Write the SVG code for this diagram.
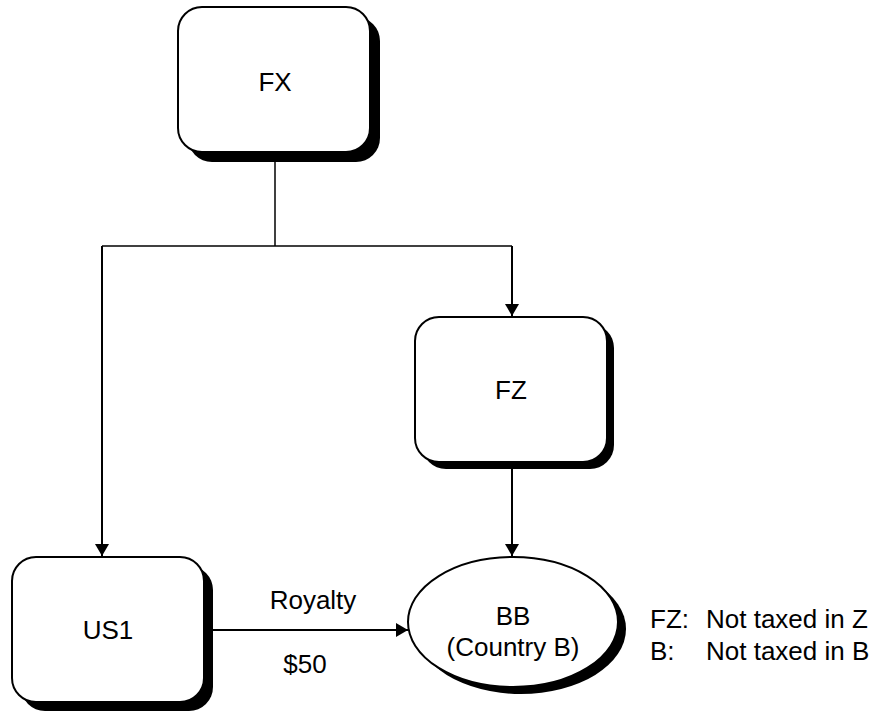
<svg xmlns="http://www.w3.org/2000/svg" width="873" height="711" viewBox="0 0 873 711">
  <style>
    .box { fill: #fff; stroke: #000; stroke-width: 2; }
    .shadow { fill: #000; }
    .lbl { font-family: "Liberation Sans", Arial, sans-serif; font-size: 26px; fill: #000; }
    .mid { text-anchor: middle; }
    .wire { fill: none; stroke: #000; stroke-width: 1.5; }
    .arrow { fill: none; stroke: #000; stroke-width: 2; marker-end: url(#head); }
  </style>
  <defs>
    <marker id="head" viewBox="0 0 12 14" refX="12" refY="7" markerWidth="12" markerHeight="14" markerUnits="userSpaceOnUse" orient="auto">
      <path d="M0,0 L12,7 L0,14 z" fill="#000"/>
    </marker>
  </defs>
  <rect width="873" height="711" fill="#fff"/>

  <g id="connectors">
    <path class="wire" d="M275,152 V246"/>
    <path class="wire" d="M102,246 H512"/>
    <path class="arrow" d="M102,246 V556"/>
    <path class="arrow" d="M512,246 V316"/>
    <path class="arrow" d="M512,462 V556"/>
    <path class="arrow" d="M203,630 H408"/>
  </g>

  <g id="fx">
    <rect class="shadow" x="188" y="17" width="192" height="145" rx="24"/>
    <rect class="box" x="178" y="7" width="192" height="145" rx="24"/>
    <text class="lbl mid" x="275" y="91">FX</text>
  </g>

  <g id="fz">
    <rect class="shadow" x="422" y="324" width="192" height="145" rx="24"/>
    <rect class="box" x="415" y="317" width="192" height="145" rx="24"/>
    <text class="lbl mid" x="511" y="399">FZ</text>
  </g>

  <g id="us1">
    <rect class="shadow" x="21" y="566" width="192" height="145" rx="24"/>
    <rect class="box" x="12" y="557" width="192" height="145" rx="24"/>
    <text class="lbl mid" x="108" y="639">US1</text>
  </g>

  <g id="bb">
    <ellipse class="shadow" cx="521" cy="629" rx="105" ry="65"/>
    <ellipse class="box" cx="513" cy="622" rx="105" ry="65"/>
    <text class="lbl mid" x="513" y="625">BB</text>
    <text class="lbl mid" x="513" y="656">(Country B)</text>
  </g>

  <g id="royalty-labels">
    <text class="lbl mid" x="313" y="609">Royalty</text>
    <text class="lbl mid" x="305" y="673">$50</text>
  </g>

  <g id="legend">
    <text class="lbl" x="650" y="628">FZ:</text>
    <text class="lbl" x="706" y="628">Not taxed in Z</text>
    <text class="lbl" x="650" y="660">B:</text>
    <text class="lbl" x="706" y="660">Not taxed in B</text>
  </g>
</svg>
